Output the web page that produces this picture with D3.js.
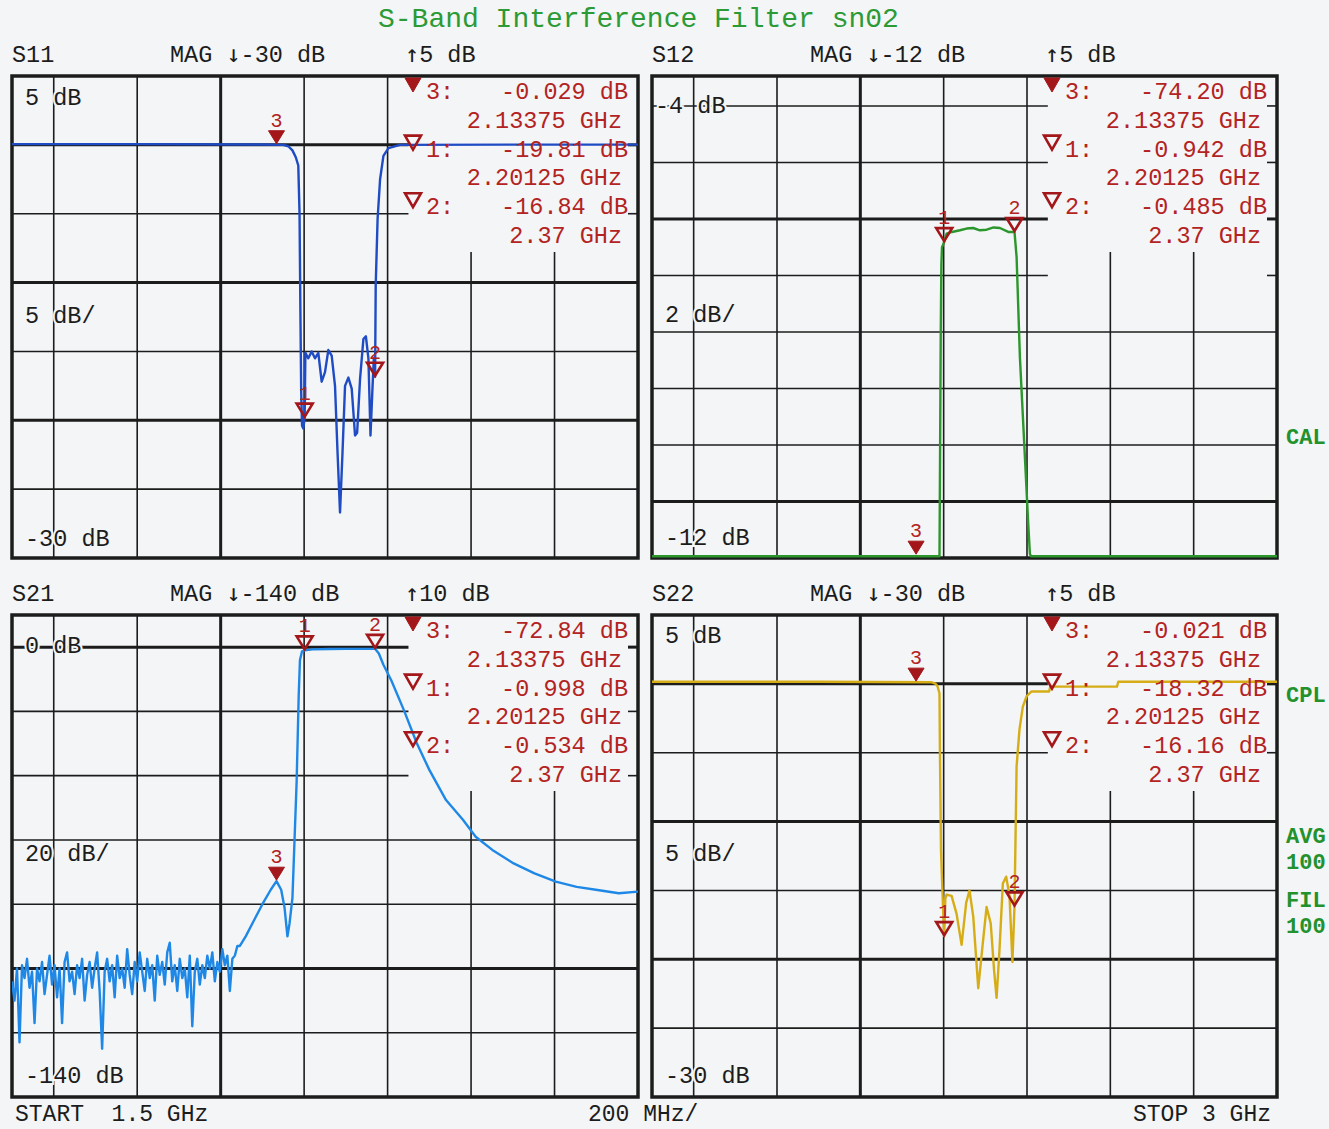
<!DOCTYPE html>
<html>
<head>
<meta charset="utf-8">
<script src="https://cdn.jsdelivr.net/npm/d3@7"></script>
<style>
  body { margin: 0; background: #f3f5f6; }
  svg { display: block; }
  text { font-family: "Liberation Mono", "DejaVu Sans Mono", monospace; }
  tspan.arrow { font-family: "DejaVu Sans Mono", monospace; }
</style>
</head>
<body>
<div id="chart"></div>
<script>
const chartWidth = 1329;
const chartHeight = 1129;

const freqStart = 1.5;
const freqStop = 3;
const gridFreqs = [1.6, 1.8, 2.0, 2.2, 2.4, 2.6, 2.8];
const thickFreqs = [2.0];
const shortFreqs = [2.6, 2.8];

const markerFreqs = [2.20125, 2.37, 2.13375];
const markerIds = ["1", "2", "3"];
const readoutFreqLabels = ["2.13375 GHz", "2.20125 GHz", "2.37 GHz"];

const s11Readout = ["-0.029 dB", "-19.81 dB", "-16.84 dB"];
const s12Readout = ["-74.20 dB", "-0.942 dB", "-0.485 dB"];
const s21Readout = ["-72.84 dB", "-0.998 dB", "-0.534 dB"];
const s22Readout = ["-0.021 dB", "-18.32 dB", "-16.16 dB"];

// [GHz, dB]
const s11Trace = [
  [1.5, 0.05], [1.8, 0.05], [2.1, 0.03], [2.15, 0], [2.162, -0.1], [2.172, -0.4],
  [2.18, -0.9], [2.186, -1.5], [2.189, -5], [2.191, -12], [2.193, -18], [2.195, -20.4],
  [2.198, -20.6], [2.20125, -19.81], [2.203, -15.1], [2.21, -15.5], [2.218, -15.0],
  [2.226, -15.5], [2.234, -15.1], [2.242, -17.2], [2.25, -16.5], [2.258, -14.9],
  [2.266, -15.3], [2.274, -17.5], [2.28, -22.3], [2.286, -26.7], [2.292, -22.3],
  [2.298, -17.5], [2.306, -16.9], [2.314, -17.7], [2.322, -21.1], [2.327, -20.9],
  [2.334, -17.0], [2.342, -14.1], [2.348, -13.9], [2.354, -15.5], [2.359, -21.1],
  [2.364, -17.5], [2.367, -15.5], [2.37, -16.84], [2.3715, -10.2], [2.376, -5.4],
  [2.382, -2.5], [2.39, -0.8], [2.402, -0.24], [2.43, 0], [2.7, 0.02], [3.0, 0.02],
];

const s12Trace = [
  [1.5, -11.97], [2.19, -11.97], [2.1915, -10], [2.193, -8], [2.1945, -6.8], [2.196, -6.5],
  [2.20125, -6.41], [2.207, -6.26], [2.22, -6.23], [2.239, -6.2], [2.255, -6.17],
  [2.271, -6.16], [2.287, -6.2], [2.303, -6.19], [2.32, -6.15], [2.335, -6.16],
  [2.355, -6.23], [2.37, -6.23], [2.375, -6.67], [2.383, -8.45], [2.395, -10.22],
  [2.403, -11.4], [2.407, -11.93], [2.41, -11.97], [3.0, -11.97],
];

// S21 noise floor, one reading every 6 MHz from 1.5 GHz
const s21NoiseStart = 1.5;
const s21NoiseStep = 0.006;
const s21NoiseDb = [
  -104, -110, -100, -123, -99, -103, -97, -106, -101, -117,
  -100, -104, -98, -108, -102, -96, -105, -99, -109, -100,
  -117, -98, -95, -104, -101, -108, -99, -103, -97, -110,
  -102, -98, -106, -100, -95, -107, -125, -101, -97, -104,
  -99, -109, -96, -103, -100, -106, -94, -102, -108, -98,
  -104, -95, -101, -107, -97, -103, -99, -110, -96, -102,
  -98, -105, -95, -92, -104, -99, -107, -97, -103, -100,
  -109, -96, -118, -101, -97, -105, -99, -103, -96, -100,
  -95, -104, -98, -101, -94, -99, -96, -107, -97, -96, -93,
];
const s21Trace = [
  [2.046, -93], [2.06, -90], [2.08, -85], [2.1, -80], [2.12, -75.5], [2.13375, -72.84],
  [2.145, -75.5], [2.153, -81], [2.16, -90], [2.165, -86], [2.172, -78], [2.177, -60],
  [2.182, -42], [2.187, -15], [2.19, -4], [2.195, -1.3], [2.20125, -0.998], [2.22, -0.7],
  [2.26, -0.6], [2.3, -0.55], [2.34, -0.55], [2.37, -0.534], [2.379, -2.0], [2.39, -5.5],
  [2.409, -10.4], [2.439, -19.6], [2.47, -29.9], [2.5, -38.2], [2.54, -47.6],
  [2.581, -53.8], [2.611, -59], [2.651, -63.1], [2.702, -67.3], [2.752, -70.4],
  [2.803, -73], [2.853, -74.6], [2.903, -75.6], [2.954, -76.6], [3.0, -76.1],
];

const s22Trace = [
  [1.5, 0.15], [1.9, 0.15], [2.17, 0.12], [2.18, 0.02], [2.185, -0.15], [2.19, -0.7],
  [2.191, -4.8], [2.1936, -12.1], [2.1977, -15.6], [2.20125, -18.32], [2.204, -15.6],
  [2.207, -15.3], [2.219, -15.4], [2.231, -16.7], [2.243, -18.95], [2.254, -15.9],
  [2.262, -15.0], [2.271, -16.9], [2.283, -22.1], [2.294, -18.8], [2.303, -16.2],
  [2.313, -17.4], [2.321, -20.8], [2.327, -22.8], [2.334, -19.3], [2.342, -14.5],
  [2.35, -14.0], [2.358, -15.4], [2.365, -20.2], [2.37, -16.16], [2.372, -12.1],
  [2.375, -6.0], [2.382, -3.3], [2.39, -1.65], [2.399, -0.9], [2.411, -0.55],
  [2.453, -0.55], [2.456, -0.2], [2.616, -0.2], [2.619, 0.15], [3.0, 0.15],
];

const s11GridDb = [0, -5, -10, -15, -20, -25];
const s12GridDb = [-4, -5, -6, -7, -8, -9, -10, -11];
const s21GridDb = [0, -20, -40, -60, -80, -100, -120];
const s22GridDb = [0, -5, -10, -15, -20, -25];

const s21Full = s21NoiseDb
  .map((v, i) => [s21NoiseStart + i * s21NoiseStep, v])
  .concat(s21Trace);

const panels = [
  {
    name: "S11", x0: 12, x1: 638, y0: 76, y1: 558, bottomDb: -30, topDb: 5,
    gridDb: s11GridDb, thickDb: [0, -10, -20], cutDb: [0, -5],
    trace: s11Trace, color: "#1f4cc4", readout: s11Readout,
    header: ["-30 dB", "5 dB"],
    labels: [["5 dB", 29], ["5 dB/", 247], ["-30 dB", 470]],
  },
  {
    name: "S12", x0: 652, x1: 1277, y0: 76, y1: 558, bottomDb: -12, topDb: -3.47,
    gridDb: s12GridDb, thickDb: [-6, -11], cutDb: [-4, -5, -6, -7],
    trace: s12Trace, color: "#2b962b", readout: s12Readout,
    header: ["-12 dB", "5 dB"],
    labels: [["-4 dB", 37], ["2 dB/", 246], ["-12 dB", 469]],
  },
  {
    name: "S21", x0: 12, x1: 638, y0: 615, y1: 1097, bottomDb: -140, topDb: 10,
    gridDb: s21GridDb, thickDb: [0, -100], cutDb: [0, -20, -40],
    trace: s21Full, color: "#1f88e6", readout: s21Readout,
    header: ["-140 dB", "10 dB"],
    labels: [["0 dB", 38], ["20 dB/", 246], ["-140 dB", 468]],
  },
  {
    name: "S22", x0: 652, x1: 1277, y0: 615, y1: 1097, bottomDb: -30, topDb: 5,
    gridDb: s22GridDb, thickDb: [0, -10, -20], cutDb: [0, -5],
    trace: s22Trace, color: "#d6ad17", readout: s22Readout,
    header: ["-30 dB", "5 dB"],
    labels: [["5 dB", 28], ["5 dB/", 246], ["-30 dB", 468]],
  },
];

const paper = "#f3f5f6";
const ink = "#1c1c1c";
const markerRed = "#a3161a";
const textRed = "#b3231f";
const green = "#2c9a35";

const svg = d3
  .select("#chart")
  .append("svg")
  .attr("width", chartWidth)
  .attr("height", chartHeight);

svg.append("rect").attr("width", chartWidth).attr("height", chartHeight).attr("fill", paper);

svg
  .append("text")
  .attr("x", 378)
  .attr("y", 27)
  .attr("font-size", 28)
  .attr("fill", green)
  .text("S-Band Interference Filter sn02");

panels.forEach(drawPanel);

// status annotations on the right edge
const sideLabels = [["CAL", 444], ["CPL", 702], ["AVG", 843], ["100", 869], ["FIL", 907], ["100", 933]];
svg
  .selectAll(".side")
  .data(sideLabels)
  .join("text")
  .attr("x", 1286)
  .attr("y", (d) => d[1])
  .attr("font-size", 22)
  .attr("font-weight", 700)
  .attr("fill", "#23912c")
  .text((d) => d[0]);

const footer = [["START  1.5 GHz", 15], ["200 MHz/", 588], ["STOP 3 GHz", 1133]];
svg
  .selectAll(".footer")
  .data(footer)
  .join("text")
  .attr("x", (d) => d[1])
  .attr("y", 1121)
  .attr("font-size", 23)
  .attr("fill", ink)
  .style("white-space", "pre")
  .text((d) => d[0]);

function drawPanel(p, index) {
  const x = d3.scaleLinear().domain([freqStart, freqStop]).range([p.x0, p.x1]);
  const y = d3.scaleLinear().domain([p.bottomDb, p.topDb]).range([p.y1, p.y0]);
  const g = svg.append("g");
  const cutX = x(2.45);

  // header line
  const headerY = p.y0 - 14;
  g.append("text").attr("x", p.x0).attr("y", headerY).attr("font-size", 23.5).attr("fill", ink).text(p.name);

  const mag = g.append("text").attr("x", p.x0 + 158).attr("y", headerY).attr("font-size", 23.5).attr("fill", ink);
  mag.append("tspan").text("MAG ");
  mag.append("tspan").attr("class", "arrow").text("\u2193");
  mag.append("tspan").text(p.header[0]);

  const top = g.append("text").attr("x", p.x0 + 393).attr("y", headerY).attr("font-size", 23.5).attr("fill", ink);
  top.append("tspan").attr("class", "arrow").text("\u2191");
  top.append("tspan").text(p.header[1]);

  // vertical grid
  g.selectAll(".vgrid")
    .data(gridFreqs)
    .join("line")
    .attr("x1", (d) => x(d))
    .attr("x2", (d) => x(d))
    .attr("y1", (d) => (shortFreqs.includes(d) ? p.y0 + 176 : p.y0))
    .attr("y2", p.y1)
    .attr("stroke", ink)
    .attr("stroke-width", (d) => (thickFreqs.includes(d) ? 3 : 1.6));

  // horizontal grid
  g.selectAll(".hgrid")
    .data(p.gridDb)
    .join("line")
    .attr("x1", p.x0)
    .attr("x2", (d) => (p.cutDb.includes(d) ? cutX : p.x1))
    .attr("y1", (d) => y(d))
    .attr("y2", (d) => y(d))
    .attr("stroke", ink)
    .attr("stroke-width", (d) => (p.thickDb.includes(d) ? 3 : 1.6));

  g.selectAll(".tick")
    .data(p.cutDb)
    .join("line")
    .attr("x1", p.x1 - 10)
    .attr("x2", p.x1)
    .attr("y1", (d) => y(d))
    .attr("y2", (d) => y(d))
    .attr("stroke", ink)
    .attr("stroke-width", (d) => (p.thickDb.includes(d) ? 3 : 1.6));

  g.append("rect")
    .attr("x", p.x0)
    .attr("y", p.y0)
    .attr("width", p.x1 - p.x0)
    .attr("height", p.y1 - p.y0)
    .attr("fill", "none")
    .attr("stroke", ink)
    .attr("stroke-width", 3.5);

  // scale labels inside the grid
  g.selectAll(".lbl")
    .data(p.labels)
    .join("text")
    .attr("x", (d) => p.x0 + (d[0].startsWith("-4") ? 3 : 13))
    .attr("y", (d) => p.y0 + d[1])
    .attr("font-size", 23.5)
    .attr("fill", ink)
    .attr("stroke", paper)
    .attr("stroke-width", 4)
    .attr("paint-order", "stroke")
    .text((d) => d[0]);

  // trace
  const clipId = `clip${index}`;
  svg.append("clipPath").attr("id", clipId)
    .append("rect")
    .attr("x", p.x0)
    .attr("y", p.y0)
    .attr("width", p.x1 - p.x0)
    .attr("height", p.y1 - p.y0);

  const line = d3.line().x((d) => x(d[0])).y((d) => y(d[1]));
  g.append("path")
    .datum(p.trace)
    .attr("clip-path", `url(#${clipId})`)
    .attr("d", line)
    .attr("fill", "none")
    .attr("stroke", p.color)
    .attr("stroke-width", 2.4)
    .attr("stroke-linejoin", "round");

  // markers on the trace
  markerFreqs.forEach((f, i) => {
    const v = Math.max(p.bottomDb + 0.05, Math.min(p.topDb, valueAt(p.trace, f)));
    const mx = x(f);
    const my = y(v) - 1;
    const filled = markerIds[i] === "3";
    g.append("path")
      .attr("d", `M${mx - 8},${my - 13}L${mx + 8},${my - 13}L${mx},${my}Z`)
      .attr("fill", filled ? markerRed : "none")
      .attr("stroke", markerRed)
      .attr("stroke-width", filled ? 1 : 2.6)
      .attr("stroke-linejoin", "miter");
    g.append("text")
      .attr("x", mx)
      .attr("y", my - 17)
      .attr("text-anchor", "middle")
      .attr("font-size", 20)
      .attr("fill", textRed)
      .text(markerIds[i]);
  });

  // readout block
  const rowY = (r) => p.y0 + 23 + r * 28.8;
  const readIds = ["3", "1", "2"];
  readIds.forEach((id, k) => {
    const by = rowY(k * 2);
    const tx = p.x1 - 225;
    const ty = by - 14;
    g.append("path")
      .attr("d", `M${tx - 8},${ty - 7}L${tx + 8},${ty - 7}L${tx},${ty + 7}Z`)
      .attr("fill", id === "3" ? markerRed : "none")
      .attr("stroke", markerRed)
      .attr("stroke-width", id === "3" ? 1 : 2.6);
    g.append("text").attr("x", p.x1 - 212).attr("y", by).attr("font-size", 23.5).attr("fill", textRed).text(`${id}:`);
    g.append("text").attr("x", p.x1 - 10).attr("y", by).attr("text-anchor", "end")
      .attr("font-size", 23.5).attr("fill", textRed).text(p.readout[k]);
    g.append("text").attr("x", p.x1 - 16).attr("y", rowY(k * 2 + 1)).attr("text-anchor", "end")
      .attr("font-size", 23.5).attr("fill", textRed).text(readoutFreqLabels[k]);
  });
}

function valueAt(trace, f) {
  for (let i = 1; i < trace.length; i++) {
    const [f0, v0] = trace[i - 1];
    const [f1, v1] = trace[i];
    if (f >= f0 && f <= f1) {
      return f1 === f0 ? v1 : v0 + ((f - f0) / (f1 - f0)) * (v1 - v0);
    }
  }
  return trace[trace.length - 1][1];
}
</script>
</body>
</html>
